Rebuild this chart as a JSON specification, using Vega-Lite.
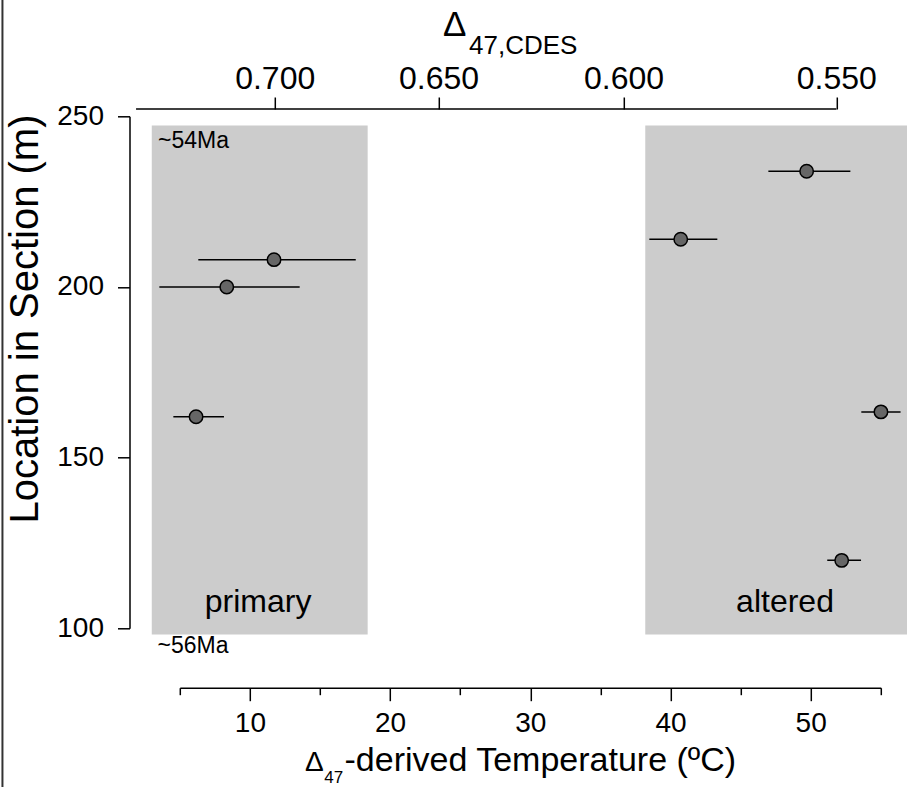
{
  "$schema": "https://vega.github.io/schema/vega-lite/v6.json",
  "autosize": {"type": "none"},
  "width": 701,
  "height": 512,
  "padding": {"left": 179.8, "top": 116.3, "right": 26.2, "bottom": 158.7},
  "background": "white",
  "config": {
    "view": {"stroke": null},
    "font": "Liberation Sans",
    "axis": {
      "grid": false,
      "domainColor": "black",
      "tickColor": "black",
      "labelColor": "black",
      "labelFont": "Liberation Sans",
      "labelFontSize": 28,
      "domainWidth": 1.5,
      "tickWidth": 1.5,
      "labelFlush": false,
      "labelOverlap": false
    },
    "axisY": {"offset": 50.3, "tickSize": 12, "labelPadding": 14, "title": null}
  },
  "datasets": {
    "zones": [
      {"zone": "primary", "t0": 3.0, "t1": 18.4, "m0": 98.2, "m1": 247.3},
      {"zone": "altered", "t0": 38.2, "t1": 58.1, "m0": 98.2, "m1": 247.3}
    ],
    "samples": [
      {"group": "primary", "loc": 208.0, "temp": 11.72, "lo": 6.32, "hi": 17.55},
      {"group": "primary", "loc": 200.0, "temp": 8.35, "lo": 3.54, "hi": 13.55},
      {"group": "primary", "loc": 162.0, "temp": 6.16, "lo": 4.54, "hi": 8.15},
      {"group": "altered", "loc": 233.9, "temp": 49.71, "lo": 46.98, "hi": 52.83},
      {"group": "altered", "loc": 214.0, "temp": 40.73, "lo": 38.49, "hi": 43.34},
      {"group": "altered", "loc": 163.4, "temp": 55.01, "lo": 53.61, "hi": 56.41},
      {"group": "altered", "loc": 119.9, "temp": 52.21, "lo": 51.18, "hi": 53.59}
    ],
    "one": [{}]
  },
  "resolve": {"axis": {"x": "independent"}},
  "layer": [
    {
      "data": {"name": "zones"},
      "mark": {"type": "rect", "fill": "#cccccc", "stroke": null},
      "encoding": {
        "x": {
          "field": "t0", "type": "quantitative",
          "scale": {"domain": [5, 55], "nice": false, "zero": false},
          "axis": {
            "orient": "bottom",
            "offset": 59.4,
            "values": [5, 10, 15, 20, 25, 30, 35, 40, 45, 50, 55],
            "labelExpr": "datum.value % 10 === 0 ? datum.label : ''",
            "tickSize": {"condition": {"test": "datum.value % 10 === 0", "value": 13}, "value": 7},
            "labelPadding": 9,
            "title": null
          }
        },
        "x2": {"field": "t1"},
        "y": {
          "field": "m0", "type": "quantitative",
          "scale": {"domain": [100, 250], "nice": false, "zero": false},
          "axis": {"values": [100, 150, 200, 250]}
        },
        "y2": {"field": "m1"}
      }
    },
    {
      "data": {"name": "samples"},
      "mark": {"type": "rule", "stroke": "black", "strokeWidth": 1.5},
      "encoding": {
        "x": {
          "field": "lo", "type": "quantitative",
          "axis": {
            "orient": "top",
            "offset": 7.3,
            "domain": false,
            "values": [1.88, 11.77, 23.45, 36.65, 51.83],
            "labelExpr": "datum.value < 5 ? '' : datum.value < 15 ? '0.700' : datum.value < 30 ? '0.650' : datum.value < 45 ? '0.600' : '0.550'",
            "tickSize": 12,
            "labelPadding": 9,
            "labelFontSize": 32,
            "labelBaseline": "alphabetic",
            "title": null
          }
        },
        "x2": {"field": "hi"},
        "y": {"field": "loc", "type": "quantitative", "axis": {"values": [100, 150, 200, 250]}}
      }
    },
    {
      "data": {"name": "samples"},
      "mark": {"type": "circle", "size": 180, "fill": "#666666", "stroke": "black", "strokeWidth": 1.5, "opacity": 1},
      "encoding": {
        "x": {"field": "temp", "type": "quantitative", "axis": null},
        "y": {"field": "loc", "type": "quantitative", "axis": {"values": [100, 150, 200, 250]}}
      }
    },
    {
      "data": {"name": "one"},
      "mark": {"type": "rule", "stroke": "black", "strokeWidth": 1.5},
      "encoding": {
        "x": {"datum": 1.88, "type": "quantitative", "axis": null},
        "x2": {"datum": 51.83},
        "y": {"datum": 252.14, "type": "quantitative", "axis": {"values": [100, 150, 200, 250]}}
      }
    },
    {
      "data": {"name": "one"},
      "mark": {"type": "rule", "stroke": "#333333", "strokeWidth": 2},
      "encoding": {
        "x": {"datum": -7.65, "type": "quantitative", "axis": null},
        "y": {"datum": 284.1, "type": "quantitative", "axis": {"values": [100, 150, 200, 250]}},
        "y2": {"datum": 53.5}
      }
    },
    {
      "data": {"name": "one"},
      "mark": {"type": "text", "text": "~54Ma", "fontSize": 23, "align": "left", "baseline": "alphabetic", "color": "black"},
      "encoding": {
        "x": {"datum": 3.445, "type": "quantitative", "axis": null},
        "y": {"datum": 240.7, "type": "quantitative", "axis": {"values": [100, 150, 200, 250]}}
      }
    },
    {
      "data": {"name": "one"},
      "mark": {"type": "text", "text": "~56Ma", "fontSize": 23, "align": "left", "baseline": "alphabetic", "color": "black"},
      "encoding": {
        "x": {"datum": 3.41, "type": "quantitative", "axis": null},
        "y": {"datum": 92.76, "type": "quantitative", "axis": {"values": [100, 150, 200, 250]}}
      }
    },
    {
      "data": {"name": "one"},
      "mark": {"type": "text", "text": "primary", "fontSize": 32, "align": "center", "baseline": "alphabetic", "color": "black"},
      "encoding": {
        "x": {"datum": 10.58, "type": "quantitative", "axis": null},
        "y": {"datum": 104.8, "type": "quantitative", "axis": {"values": [100, 150, 200, 250]}}
      }
    },
    {
      "data": {"name": "one"},
      "mark": {"type": "text", "text": "altered", "fontSize": 32, "align": "center", "baseline": "alphabetic", "color": "black"},
      "encoding": {
        "x": {"datum": 48.17, "type": "quantitative", "axis": null},
        "y": {"datum": 104.8, "type": "quantitative", "axis": {"values": [100, 150, 200, 250]}}
      }
    },
    {
      "data": {"name": "one"},
      "mark": {"type": "text", "text": "Δ", "fontSize": 35, "align": "left", "baseline": "alphabetic", "color": "black"},
      "encoding": {
        "x": {"datum": 23.77, "type": "quantitative", "axis": null},
        "y": {"datum": 273.5, "type": "quantitative", "axis": {"values": [100, 150, 200, 250]}}
      }
    },
    {
      "data": {"name": "one"},
      "mark": {"type": "text", "text": "47,CDES", "fontSize": 26, "align": "left", "baseline": "alphabetic", "color": "black"},
      "encoding": {
        "x": {"datum": 25.63, "type": "quantitative", "axis": null},
        "y": {"datum": 268.25, "type": "quantitative", "axis": {"values": [100, 150, 200, 250]}}
      }
    },
    {
      "data": {"name": "one"},
      "mark": {"type": "text", "text": "Δ", "fontSize": 28, "align": "left", "baseline": "alphabetic", "color": "black"},
      "encoding": {
        "x": {"datum": 13.93, "type": "quantitative", "axis": null},
        "y": {"datum": 58.2, "type": "quantitative", "axis": {"values": [100, 150, 200, 250]}}
      }
    },
    {
      "data": {"name": "one"},
      "mark": {"type": "text", "text": "47", "fontSize": 17, "align": "left", "baseline": "alphabetic", "color": "black"},
      "encoding": {
        "x": {"datum": 15.3, "type": "quantitative", "axis": null},
        "y": {"datum": 54.6, "type": "quantitative", "axis": {"values": [100, 150, 200, 250]}}
      }
    },
    {
      "data": {"name": "one"},
      "mark": {"type": "text", "text": "-derived Temperature (ºC)", "fontSize": 34, "align": "left", "baseline": "alphabetic", "color": "black"},
      "encoding": {
        "x": {"datum": 16.75, "type": "quantitative", "axis": null},
        "y": {"datum": 58.2, "type": "quantitative", "axis": {"values": [100, 150, 200, 250]}}
      }
    },
    {
      "data": {"name": "one"},
      "mark": {"type": "text", "text": "Location in Section (m)", "fontSize": 40, "angle": 270, "align": "center", "baseline": "alphabetic", "color": "black"},
      "encoding": {
        "x": {"datum": -5.11, "type": "quantitative", "axis": null},
        "y": {"datum": 190.6, "type": "quantitative", "axis": {"values": [100, 150, 200, 250]}}
      }
    }
  ]
}
